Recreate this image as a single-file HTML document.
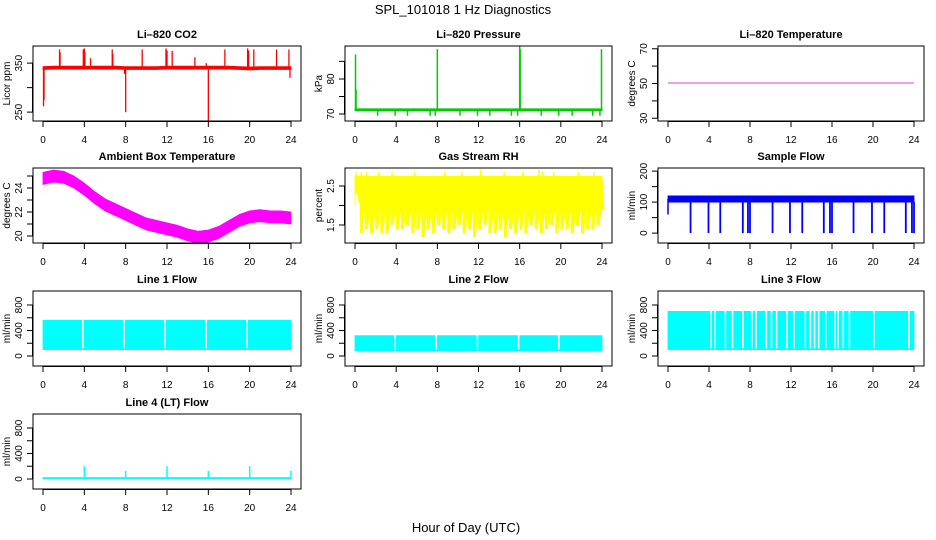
<!DOCTYPE html>
<html><head><meta charset="utf-8"><style>
html,body{margin:0;padding:0;background:#fff}
svg{display:block;font-family:"Liberation Sans",Arial,sans-serif}
</style></head><body>
<svg id="chart" width="936" height="540" viewBox="0 0 936 540">
<text x="463" y="14" font-size="13" text-anchor="middle">SPL_101018  1 Hz Diagnostics</text>
<text x="466" y="532" font-size="13" text-anchor="middle">Hour of Day (UTC)</text>
</svg>
<script>
const xTicks=[0,4,8,12,16,20,24];
// CO2
const co2Hours=[0,1,2,3,4,5,6,7,8,9,10,11,12,13,14,15,16,17,18,19,20,21,22,23,24];
const co2Level=[340,341,341,341,341,341,341,341,340,340,340,340,341,341,341,341,341,341,341,340,339,340,340,340,340];
const co2SpikeHours=[0.05,0.1,1.6,1.65,3.9,4.0,4.05,4.6,6.7,6.75,7.9,8.0,9.6,11.9,12.0,12.5,14.7,15.8,16.0,17.6,19.8,19.9,20.4,22.6,23.8,23.9];
const co2SpikeValues=[262,275,378,372,378,380,372,360,378,368,328,250,378,380,376,375,362,350,226,378,380,376,378,378,378,320];
// Pressure
const presLevel=71.2;
const presDipHours=[2.2,3.9,5.1,7.3,7.8,10.2,11.9,13.1,15.2,15.8,18.1,19.8,21.1,23.1,23.8];
const presDipValues=[69.5,69.5,69.5,69.5,69.5,69.5,69.5,69.5,69.5,69.5,69.5,69.5,69.5,69.5,69.5];
const presSpikeHours=[0.05,0.1,8.0,16.0,16.05,23.95];
const presSpikeValues=[87,77,88.5,89.5,88.5,88.5];
// Li-820 temperature
const tempHours=[0,24];
const tempValues=[50.3,50.3];
// Ambient
const ambHours=[0,1,2,3,4,5,6,7,8,9,10,11,12,13,14,15,16,17,18,19,20,21,22,23,24];
const ambCenter=[24.8,25.0,24.9,24.5,23.9,23.2,22.6,22.2,21.8,21.4,21.0,20.8,20.6,20.4,20.1,19.9,20.0,20.3,20.8,21.3,21.6,21.7,21.6,21.6,21.5];
// RH
const rhLower=[2.3,1.3,1.4,1.3,1.4,1.3,1.3,1.5,1.4,1.4,1.5,1.3,1.4,1.2,1.4,1.3,1.5,1.4,1.3,1.4,1.5,1.3,1.4,1.2,1.4,1.5,1.3,1.3,1.4,1.2,1.4,1.3,1.4,1.3,1.5,1.4,1.3,1.4,1.5,1.3,1.4,1.4,1.3,1.5,1.3,1.4,1.4,1.5,1.9];
const rhUpper=2.75;
const rhPeakHours=[0.1,0.6,1.1,2.3,3.6,5.8,8.7,10.4,12.2,14.5,16.3,17.9,18.2,19.3,21.7,23.2];
const rhPeakValues=[2.85,2.85,2.85,2.85,2.85,2.85,2.85,2.85,2.92,2.85,2.85,2.92,2.88,2.85,2.85,2.85];
// Sample flow
const sfLow=100, sfHigh=120;
const sfDipHours=[2.2,3.95,5.1,7.3,7.8,8.0,10.2,11.9,13.1,15.2,15.8,16.0,18.1,19.9,21.1,23.2,23.8,24];
const sfDipValues=[0,0,0,0,0,0,0,0,0,0,0,0,0,0,0,0,0,0];
// Line flows
const l1Range=[100,560]; const l1Gaps=[3.85,7.85,11.8,15.8,19.75];
const l2Range=[80,320]; const l2Gaps=[3.9,7.9,11.9,15.9,19.8];
const l3Range=[100,700]; const l3Gaps=[4.2,4.6,5.6,6.3,7.3,8.2,8.6,9.6,10.1,10.6,11.6,12.3,13.4,13.9,14.3,14.7,15.4,16.3,16.6,17.1,17.7,20.1,23.5];
const l4Level=15;
const l4SpikeHours=[4,8,12,16,20,24];
const l4SpikeValues=[200,130,200,130,200,130];

const svg=document.getElementById('chart');
const NS='http://www.w3.org/2000/svg';
const colL=[33,345,658], colR=[301,612,924], rowT=[46,168,291,414], H=75;
function mk(tag,parent){const e=document.createElementNS(NS,tag);parent.appendChild(e);return e;}

function panel(c,r,title,ylab,ymin,ymax,ticks,labels,name){
  const g=mk('g',svg);
  
  
  const L=colL[c],R=colR[c],T=rowT[r],B=T+H;
  const x0=L+10,x1=R-10;
  const sx=h=>x0+(x1-x0)*h/24;
  const sy=v=>B-(v-ymin)/(ymax-ymin)*H;
  const clip=mk('clipPath',g); clip.setAttribute('id','clip'+name);
  const cr=mk('rect',clip); cr.setAttribute('x',L);cr.setAttribute('y',T);cr.setAttribute('width',R-L);cr.setAttribute('height',H);
  const data=mk('g',g); data.setAttribute('clip-path','url(#clip'+name+')');
  
  
  const box=mk('rect',g);
  
  
  box.setAttribute('x',L);box.setAttribute('y',T);box.setAttribute('width',R-L);box.setAttribute('height',H);
  box.setAttribute('fill','none');box.setAttribute('stroke','#000');box.setAttribute('stroke-width','1');
  const t=mk('text',g); t.textContent=title;
  
  
  t.setAttribute('x',(L+R)/2);t.setAttribute('y',T-8);t.setAttribute('font-size','11');t.setAttribute('font-weight','bold');t.setAttribute('text-anchor','middle');
  const xa=mk('path',g);
  
  
  let d='M'+sx(0)+' '+(B+0.5)+'H'+sx(24);
  xTicks.forEach(h=>{d+='M'+sx(h)+' '+B+'v6';});
  xa.setAttribute('d',d);xa.setAttribute('stroke','#000');xa.setAttribute('fill','none');
  xTicks.forEach(h=>{const tx=mk('text',g);tx.textContent=h;
    
    
    tx.setAttribute('x',sx(h));tx.setAttribute('y',B+22);tx.setAttribute('font-size','10');tx.setAttribute('text-anchor','middle');});
  const ya=mk('path',g);
  
  
  let dy='M'+(L-0.5)+' '+sy(ticks[0])+'V'+sy(ticks[ticks.length-1]);
  ticks.forEach(v=>{dy+='M'+L+' '+sy(v)+'h-6';});
  ya.setAttribute('d',dy);ya.setAttribute('stroke','#000');ya.setAttribute('fill','none');
  labels.forEach(v=>{const ty=mk('text',g);ty.textContent=v;
    
    
    const X=L-11,Y=sy(v);
    ty.setAttribute('transform','translate('+X+','+Y+') rotate(-90)');ty.setAttribute('font-size','10');ty.setAttribute('text-anchor','middle');});
  const yl=mk('text',g); yl.textContent=ylab;
  
  
  yl.setAttribute('transform','translate('+(L-23)+','+(T+H/2)+') rotate(-90)');yl.setAttribute('font-size','10');yl.setAttribute('text-anchor','middle');
  return {g:data,sx,sy};
}
function line(p,x1,y1,x2,y2,col,w,nm){const l=mk('line',p.g);
  
  
  l.setAttribute('x1',x1);l.setAttribute('y1',y1);l.setAttribute('x2',x2);l.setAttribute('y2',y2);l.setAttribute('stroke',col);l.setAttribute('stroke-width',w);return l;}
function poly(p,pts,col,nm){const e=mk('polygon',p.g);
  
  
  e.setAttribute('points',pts.map(q=>q.join(',')).join(' '));e.setAttribute('fill',col);e.setAttribute('stroke',col);e.setAttribute('stroke-width','0.8');}
function band(p,h0,h1,lo,hi,col,nm){poly(p,[[p.sx(h0),p.sy(lo)],[p.sx(h1),p.sy(lo)],[p.sx(h1),p.sy(hi)],[p.sx(h0),p.sy(hi)]],col,nm);}

let p=panel(0,0,'Li\u2013820 CO2','Licor ppm',232,385,[250,300,350],[250,350],'co2');
co2SpikeHours.forEach((h,i)=>line(p,p.sx(h),p.sy(340),p.sx(h),p.sy(co2SpikeValues[i]),'#f00',1.3,'co2-spike'));
poly(p,co2Hours.map((h,i)=>[p.sx(h),p.sy(co2Level[i]+3)]).concat(co2Hours.slice().reverse().map((h,i)=>[p.sx(h),p.sy(co2Level[co2Level.length-1-i]-3)])),'#f00','co2-band');

p=panel(1,0,'Li\u2013820 Pressure','kPa',68,89.4,[70,75,80,85],[70,80],'pressure');
band(p,0,24,presLevel-0.3,presLevel+0.3,'#0c0','pressure-band');
presDipHours.forEach((h,i)=>line(p,p.sx(h),p.sy(presLevel),p.sx(h),p.sy(presDipValues[i]),'#0c0',1.5,'pressure-dip'));
presSpikeHours.forEach((h,i)=>line(p,p.sx(h),p.sy(presLevel),p.sx(h),p.sy(presSpikeValues[i]),'#0c0',1.5,'pressure-spike'));

p=panel(2,0,'Li\u2013820 Temperature','degrees C',28.4,71.6,[30,40,50,60,70],[30,50,70],'li820-temperature');
line(p,p.sx(tempHours[0]),p.sy(tempValues[0]),p.sx(tempHours[1]),p.sy(tempValues[1]),'#c0c',0.8,'temperature-line');

p=panel(0,1,'Ambient Box Temperature','degrees C',19.42,25.67,[20,21,22,23,24,25],[20,22,24],'ambient-temperature');
poly(p,ambHours.map((h,i)=>[p.sx(h),p.sy(ambCenter[i]+0.5)]).concat(ambHours.slice().reverse().map((h,i)=>[p.sx(h),p.sy(ambCenter[ambCenter.length-1-i]-0.5)])),'#f0f','ambient-band');

p=panel(1,1,'Gas Stream RH','percent',1.04,2.96,[1.5,2.0,2.5],[1.5,2.5],'gas-stream-rh');
{const pts=[[p.sx(0),p.sy(rhUpper)],[p.sx(24),p.sy(rhUpper)]];
 for(let i=rhLower.length-1;i>=0;i--){const h=i*0.5;pts.push([p.sx(h+0.2),p.sy(rhLower[i])]);pts.push([p.sx(h),p.sy(rhLower[i])]);pts.push([p.sx(h),p.sy(2.0)]);}
 poly(p,pts,'#ff0','rh-band');}
rhPeakHours.forEach((h,i)=>line(p,p.sx(h),p.sy(rhUpper),p.sx(h),p.sy(rhPeakValues[i]),'#ff0',1.5,'rh-peak'));

p=panel(2,1,'Sample Flow','ml/min',-32,210,[0,50,100,150,200],[0,100,200],'sample-flow');
band(p,0,24,sfLow,sfHigh,'#00f','sample-flow-band');
line(p,p.sx(0),p.sy(110),p.sx(0),p.sy(60),'#00f',1.5,'sample-flow-start');
sfDipHours.forEach((h,i)=>line(p,p.sx(h),p.sy(sfLow),p.sx(h),p.sy(sfDipValues[i]),'#00f',1.8,'sample-flow-dip'));

function flow(c,r,title,name,rng,gaps){
  const q=panel(c,r,title,'ml/min',-157,1020,[0,200,400,600,800],[0,400,800],name);
  band(q,0,24,rng[0],rng[1],'#0ff',name+'-band');
  gaps.forEach(h=>line(q,q.sx(h),q.sy(rng[0]+20),q.sx(h),q.sy(rng[1]+10),'#fff',1.5,name+'-gap'));
  return q;}
flow(0,2,'Line 1 Flow','line1-flow',l1Range,l1Gaps);
flow(1,2,'Line 2 Flow','line2-flow',l2Range,l2Gaps);
flow(2,2,'Line 3 Flow','line3-flow',l3Range,l3Gaps);
p=panel(0,3,'Line 4 (LT) Flow','ml/min',-157,1020,[0,200,400,600,800],[0,400,800],'line4-flow');
band(p,0,24,l4Level-8,l4Level+8,'#0ff','line4-band');
l4SpikeHours.forEach((h,i)=>line(p,p.sx(h),p.sy(l4Level),p.sx(h),p.sy(l4SpikeValues[i]),'#0ff',1.5,'line4-spike'));
</script>
</body></html>
